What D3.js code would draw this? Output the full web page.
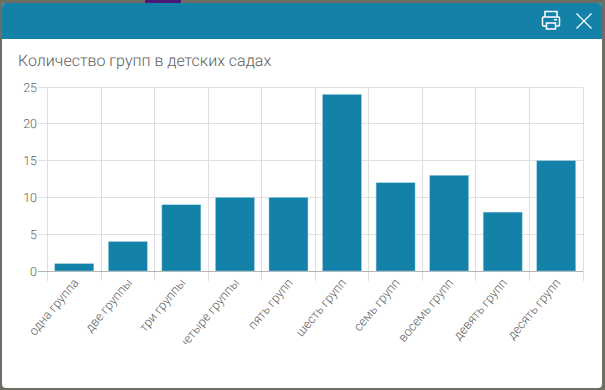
<!DOCTYPE html>
<html>
<head>
<meta charset="utf-8">
<script src="https://cdn.jsdelivr.net/npm/d3@7"></script>
<style>
  html, body { margin: 0; padding: 0; width: 605px; height: 390px; overflow: hidden; background: #6d6f63; }
  svg { display: block; }
  text { font-family: Roboto, sans-serif; font-weight: 300; text-rendering: geometricPrecision; }
</style>
</head>
<body>
<svg id="chart" width="605" height="390"></svg>
<script>
// Chart data
const categories = ['одна группа', 'две группы', 'три группы', 'четыре группы', 'пять групп',
  'шесть групп', 'семь групп', 'восемь групп', 'девять групп', 'десять групп'];
const groupCounts = [1, 4, 9, 10, 10, 24, 12, 13, 8, 15];
const yTicks = [0, 5, 10, 15, 20, 25];
const chartTitle = 'Количество групп в детских садах';

const svg = d3.select('#chart');
const accent = '#1481a8';
const textColor = '#606060';

// Bit of the map showing above the modal
svg.append('rect')
  .attr('x', 145).attr('y', 0).attr('width', 36).attr('height', 3)
  .attr('fill', '#4b1a78');

// Modal window
svg.append('rect')
  .attr('x', 2).attr('y', 3).attr('width', 600).attr('height', 385)
  .attr('rx', 4)
  .attr('fill', '#fff');

svg.append('path')
  .attr('d', 'M2 39V7a4 4 0 0 1 4-4H598a4 4 0 0 1 4 4V39Z')
  .attr('fill', accent);

// Print icon
const printer = svg.append('g')
  .attr('fill', 'none')
  .attr('stroke', '#fff')
  .attr('stroke-width', 1.5);
printer.append('path').attr('d', 'M545 17V11.5H557V17');
printer.append('path')
  .attr('d', 'M546 26H543.5Q542.5 26 542.5 25V18Q542.5 17 543.5 17H558.5Q559.5 17 559.5 18V25Q559.5 26 558.5 26H556');
printer.append('rect').attr('x', 546.5).attr('y', 23).attr('width', 9).attr('height', 6);
svg.append('rect').attr('x', 554).attr('y', 19).attr('width', 3).attr('height', 1.5).attr('fill', '#fff');

// Close icon
svg.append('path')
  .attr('d', 'M576.5 13.5L591.5 28.5M591.5 13.5L576.5 28.5')
  .attr('stroke', '#fff')
  .attr('stroke-width', 1.2);

// Title
svg.append('text')
  .attr('x', 18)
  .attr('y', 66)
  .attr('font-size', 16)
  .attr('fill', textColor)
  .text(chartTitle);

// Scales
const x = d3.scaleBand()
  .domain(categories)
  .range([47.5, 583]);

const y = d3.scaleLinear()
  .domain([0, 25])
  .range([271, 87]);

const barWidth = 39;
const crisp = v => Math.floor(v) + 0.5;

// Vertical grid with ticks below the axis
const edges = d3.range(categories.length + 1).map(i => 47.5 + i * x.step());
svg.append('g')
  .selectAll('line')
  .data(edges)
  .enter()
  .append('line')
  .attr('x1', d => crisp(d))
  .attr('x2', d => crisp(d))
  .attr('y1', crisp(y(25)))
  .attr('y2', 281)
  .attr('stroke', '#dedede');

// Horizontal grid and y labels
const yAxis = svg.append('g');
yAxis.selectAll('line')
  .data(yTicks)
  .enter()
  .append('line')
  .attr('x1', 38)
  .attr('x2', 583)
  .attr('y1', d => crisp(y(d)))
  .attr('y2', d => crisp(y(d)))
  .attr('stroke', d => d === 0 ? '#b5b5b5' : '#e0e0e0');

yAxis.selectAll('text')
  .data(yTicks)
  .enter()
  .append('text')
  .attr('x', 37)
  .attr('y', d => crisp(y(d)) + 4)
  .attr('text-anchor', 'end')
  .attr('font-size', 12.5)
  .attr('fill', textColor)
  .text(d => d);

// Bars
svg.append('g')
  .selectAll('rect')
  .data(categories)
  .enter()
  .append('rect')
  .attr('x', d => x(d) + (x.step() - barWidth) / 2)
  .attr('y', (d, i) => y(groupCounts[i]))
  .attr('width', barWidth)
  .attr('height', (d, i) => y(0) - y(groupCounts[i]))
  .attr('fill', accent)
  .attr('stroke', '#a5d2e0')
  .attr('stroke-width', 0.5);

// Rotated category labels, cut off at the bottom like the original
svg.append('clipPath')
  .attr('id', 'label-clip')
  .append('rect')
  .attr('x', 0).attr('y', 275).attr('width', 605).attr('height', 69);

svg.append('g')
  .attr('clip-path', 'url(#label-clip)')
  .selectAll('text')
  .data(categories)
  .enter()
  .append('text')
  .attr('transform', d => `translate(${x(d) + x.step() / 2 + 5},${283}) rotate(-50)`)
  .attr('text-anchor', 'end')
  .attr('font-size', 12.5)
  .attr('fill', textColor)
  .text(d => d);
</script>
</body>
</html>
